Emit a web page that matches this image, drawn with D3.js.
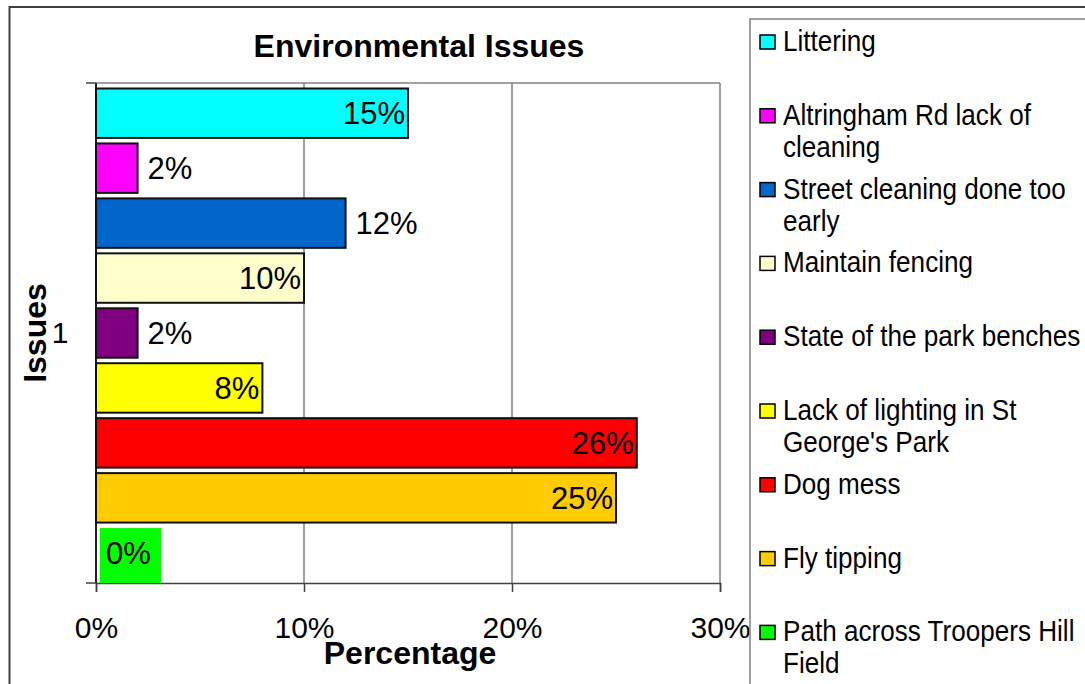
<!DOCTYPE html>
<html>
<head>
<meta charset="utf-8">
<script src="https://cdn.jsdelivr.net/npm/d3@7"></script>
<style>
  body { margin: 0; background: #fff; }
  svg { display: block; font-family: "Liberation Sans", Arial, sans-serif; }
</style>
</head>
<body>
<svg id="chart" width="1085" height="684"></svg>
<script>
// data
var issues = ["Littering", "Altringham Rd lack of cleaning", "Street cleaning done too early",
	"Maintain fencing", "State of the park benches", "Lack of lighting in St George's Park",
	"Dog mess", "Fly tipping", "Path across Troopers Hill Field"];
var percentages = [15, 2, 12, 10, 2, 8, 26, 25, 0];
var colours = ["#00FFFF", "#FF00FF", "#0066CC", "#FFFFCC", "#800080", "#FFFF00", "#FF0000", "#FFCC00", "#00FF00"];
var legendLines = [["Littering"], ["Altringham Rd lack of", "cleaning"], ["Street cleaning done too", "early"],
	["Maintain fencing"], ["State of the park benches"], ["Lack of lighting in St", "George's Park"],
	["Dog mess"], ["Fly tipping"], ["Path across Troopers Hill", "Field"]];
var xTicks = [0, 10, 20, 30];
var categoryLabel = "1";
// where Excel put each data label
var labelOutside = [false, true, true, false, true, false, false, false, false];

var svg = d3.select("#chart");

// outer chart border (runs off the canvas right and bottom)
svg.append("rect").attr("x", 9.5).attr("y", 7).attr("width", 1200).attr("height", 800)
	.attr("fill", "none").attr("stroke", "#404040").attr("stroke-width", 2);

var plot = { left: 96, right: 720, top: 83, bottom: 583 };

var xScale = d3.scaleLinear().domain([0, 30]).range([plot.left, plot.right]);
var yScale = d3.scaleBand().domain(issues).range([plot.top, plot.bottom])
	.paddingInner(0.1).paddingOuter(0.1);

// gridlines
svg.append("g").selectAll("line")
	.data(xTicks.slice(1))
	.enter()
  .append("line")
	.attr("x1", function (d) { return xScale(d); })
	.attr("x2", function (d) { return xScale(d); })
	.attr("y1", plot.top).attr("y2", plot.bottom)
	.attr("stroke", "#808080").attr("stroke-width", 1.5);

svg.append("line").attr("x1", plot.left).attr("x2", plot.right)
	.attr("y1", plot.top).attr("y2", plot.top)
	.attr("stroke", "#808080").attr("stroke-width", 1.5);

// x axis
var xAxis = d3.axisBottom(xScale).tickValues(xTicks).tickSize(9)
	.tickFormat(function (d) { return d + "%"; });
var gx = svg.append("g").attr("transform", "translate(0," + plot.bottom + ")").call(xAxis);
gx.select(".domain").attr("stroke", "#404040").attr("stroke-width", 1.5);
gx.selectAll(".tick line").attr("stroke", "#404040").attr("stroke-width", 1.5);
gx.selectAll(".tick text").attr("font-size", 30).attr("font-family", "Liberation Sans, Arial")
	.attr("fill", "#000").attr("y", 25).attr("dy", "1em");

// y axis (single category)
svg.append("line").attr("x1", plot.left).attr("x2", plot.left)
	.attr("y1", plot.top).attr("y2", plot.bottom)
	.attr("stroke", "#202020").attr("stroke-width", 2);
[plot.top, plot.bottom].forEach(function (y) {
	svg.append("line").attr("x1", plot.left - 10).attr("x2", plot.left)
		.attr("y1", y).attr("y2", y)
		.attr("stroke", "#404040").attr("stroke-width", 1.5);
});
svg.append("text").attr("x", 60).attr("y", (plot.top + plot.bottom) / 2 + 10)
	.attr("text-anchor", "middle").attr("font-size", 30).text(categoryLabel);

// bars
var bars = svg.append("g");
bars.selectAll("rect")
	.data(percentages)
	.enter()
  .append("rect")
	.filter(function (d) { return d > 0; })
	.attr("x", xScale(0))
	.attr("y", function (d, i) { return yScale(issues[i]); })
	.attr("width", function (d) { return xScale(d) - xScale(0); })
	.attr("height", yScale.bandwidth())
	.attr("fill", function (d, i) { return colours[i]; })
	.attr("stroke", "#111").attr("stroke-width", 2);

// zero-value label gets a filled box in the series colour
percentages.forEach(function (d, i) {
	if (d === 0) {
		svg.append("rect")
			.attr("x", xScale(0) + 4)
			.attr("y", yScale(issues[i]))
			.attr("width", 61)
			.attr("height", plot.bottom - yScale(issues[i]))
			.attr("fill", colours[i]);
	}
});

svg.append("g").selectAll("text")
	.data(percentages)
	.enter()
  .append("text")
	.attr("font-size", 31)
	.attr("x", function (d, i) {
		if (d === 0) return xScale(0) + 10;
		return labelOutside[i] ? xScale(d) + 10 : xScale(d) - 3;
	})
	.attr("y", function (d, i) { return yScale(issues[i]) + yScale.bandwidth() / 2 + 11; })
	.attr("text-anchor", function (d, i) { return (labelOutside[i] || d === 0) ? "start" : "end"; })
	.text(function (d) { return d + "%"; });

// titles
svg.append("text").attr("x", 419).attr("y", 57).attr("text-anchor", "middle")
	.attr("font-size", 32).attr("font-weight", "bold").text("Environmental Issues");
svg.append("text").attr("x", 410).attr("y", 664).attr("text-anchor", "middle")
	.attr("font-size", 32).attr("font-weight", "bold").text("Percentage");
svg.append("text").attr("transform", "translate(46,333) rotate(-90)").attr("text-anchor", "middle")
	.attr("font-size", 32).attr("font-weight", "bold").text("Issues");

// legend
svg.append("rect").attr("x", 750).attr("y", 19).attr("width", 400).attr("height", 700)
	.attr("fill", "#fff").attr("stroke", "#808080").attr("stroke-width", 1.5);

var legend = svg.append("g").selectAll("g")
	.data(issues)
	.enter()
  .append("g")
	.attr("transform", function (d, i) { return "translate(0," + (51 + i * 73.8) + ")"; });

legend.append("rect")
	.attr("x", 760).attr("y", -16).attr("width", 15).attr("height", 14)
	.attr("fill", function (d, i) { return colours[i]; })
	.attr("stroke", "#000").attr("stroke-width", 1.5);

// legend text in the reference is a little narrow for its height
legend.append("text")
	.attr("transform", "translate(783,0) scale(0.9,1)")
	.attr("font-size", 29)
	.selectAll("tspan")
	.data(function (d, i) { return legendLines[i]; })
	.enter()
  .append("tspan")
	.attr("x", 0)
	.attr("y", function (d, j) { return j * 32; })
	.text(function (d) { return d; });
</script>
</body>
</html>
